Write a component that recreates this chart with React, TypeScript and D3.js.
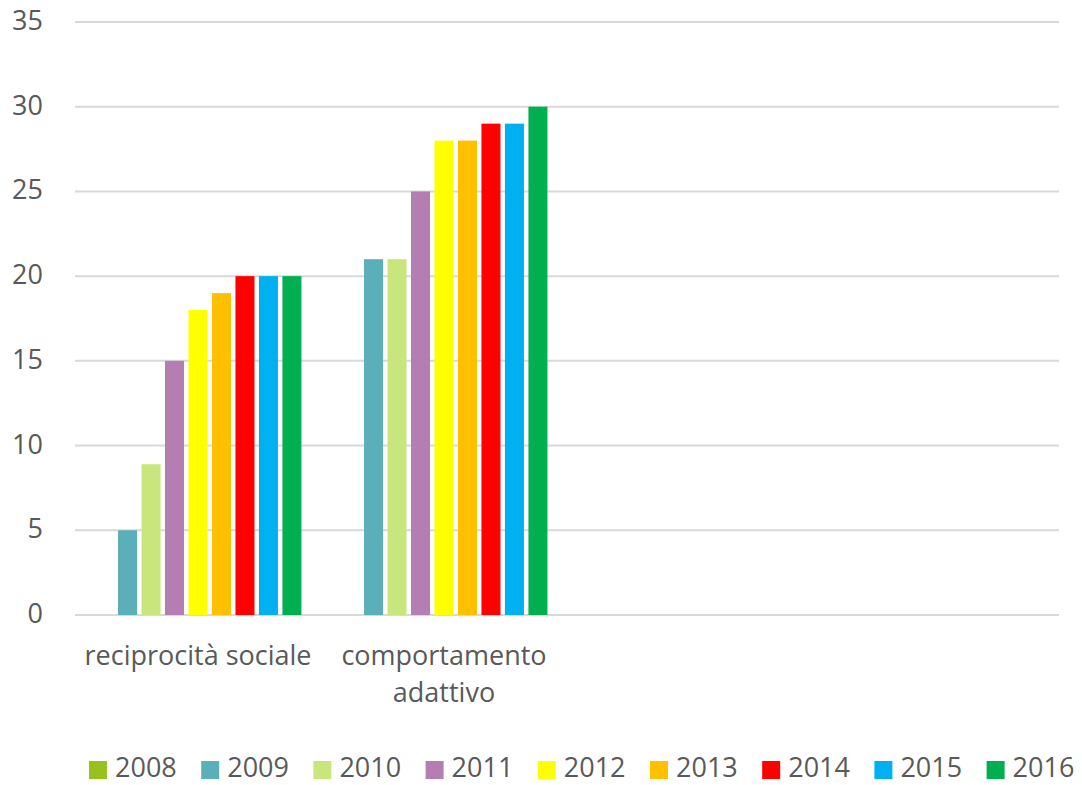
import React from 'react';
import * as d3 from 'd3';

const width = 1082;
const height = 785;
const margin = { top: 22, right: 23, bottom: 170, left: 75 };

// chart data
const categories = ['reciprocità sociale', 'comportamento adattivo', '', ''];
const categoryLines = [['reciprocità sociale'], ['comportamento', 'adattivo'], [], []];
const years = ['2008', '2009', '2010', '2011', '2012', '2013', '2014', '2015', '2016'];
const yearColors = ['#96C11F', '#5BAFB8', '#C8E67B', '#B57EB3', '#FFFF00', '#FFC000', '#FF0000', '#00B0F0', '#00B050'];
// one value per year, null = no bar
const reciprocitaSociale = [null, 5, 8.9, 15, 18, 19, 20, 20, 20];
const comportamentoAdattivo = [null, 21, 21, 25, 28, 28, 29, 29, 30];
const seriesByCategory = [reciprocitaSociale, comportamentoAdattivo, [], []];
const yTicks = [0, 5, 10, 15, 20, 25, 30, 35];

const font = '"Open Sans", sans-serif';
const textColor = '#595959';

export default function App() {
  const x0 = d3
    .scaleBand()
    .domain(categories.map((c, i) => String(i)))
    .range([margin.left, width - margin.right])
    .paddingInner(0.159)
    .paddingOuter(0.0795);

  const x1 = d3
    .scaleBand()
    .domain(years)
    .range([0, x0.bandwidth()])
    .paddingInner(0.19)
    .paddingOuter(0);

  const y = d3
    .scaleLinear()
    .domain([0, 35])
    .range([615, margin.top]);

  const legendStep = 112.2;
  const legendStart = 89;

  return (
    <svg
      width={width}
      height={height}
      style={{ position: 'absolute', left: 0, top: 0, background: '#fff' }}
      fontFamily={font}
    >
      {/* grid lines + y labels */}
      {yTicks.map(t => (
        <g key={'t' + t}>
          <line
            x1={margin.left}
            x2={width - margin.right}
            y1={y(t)}
            y2={y(t)}
            stroke="#D9D9D9"
            strokeWidth={2}
          />
          <text x={43} y={y(t) + 8} textAnchor="end" fontSize={27} fill={textColor}>
            {t}
          </text>
        </g>
      ))}

      {/* bars */}
      {seriesByCategory.map((vals, ci) => (
        <g key={'c' + ci} transform={`translate(${x0(String(ci))}, 0)`}>
          {vals.map((v, yi) =>
            v == null ? null : (
              <rect
                key={years[yi]}
                x={x1(years[yi])}
                y={y(v)}
                width={x1.bandwidth()}
                height={y(0) - y(v)}
                fill={yearColors[yi]}
              />
            )
          )}
        </g>
      ))}

      {/* category labels */}
      {categoryLines.map((lines, ci) =>
        lines.map((l, li) => (
          <text
            key={'l' + ci + li}
            x={x0(String(ci)) + x0.bandwidth() / 2}
            y={665 + li * 37}
            textAnchor="middle"
            fontSize={27}
            fill={textColor}
          >
            {l}
          </text>
        ))
      )}

      {/* legend */}
      {years.map((yr, i) => (
        <g key={'lg' + yr} transform={`translate(${legendStart + i * legendStep}, 761)`}>
          <rect width={18} height={18} fill={yearColors[i]} />
          <text x={26} y={16} fontSize={27} fill={textColor}>
            {yr}
          </text>
        </g>
      ))}
    </svg>
  );
}
